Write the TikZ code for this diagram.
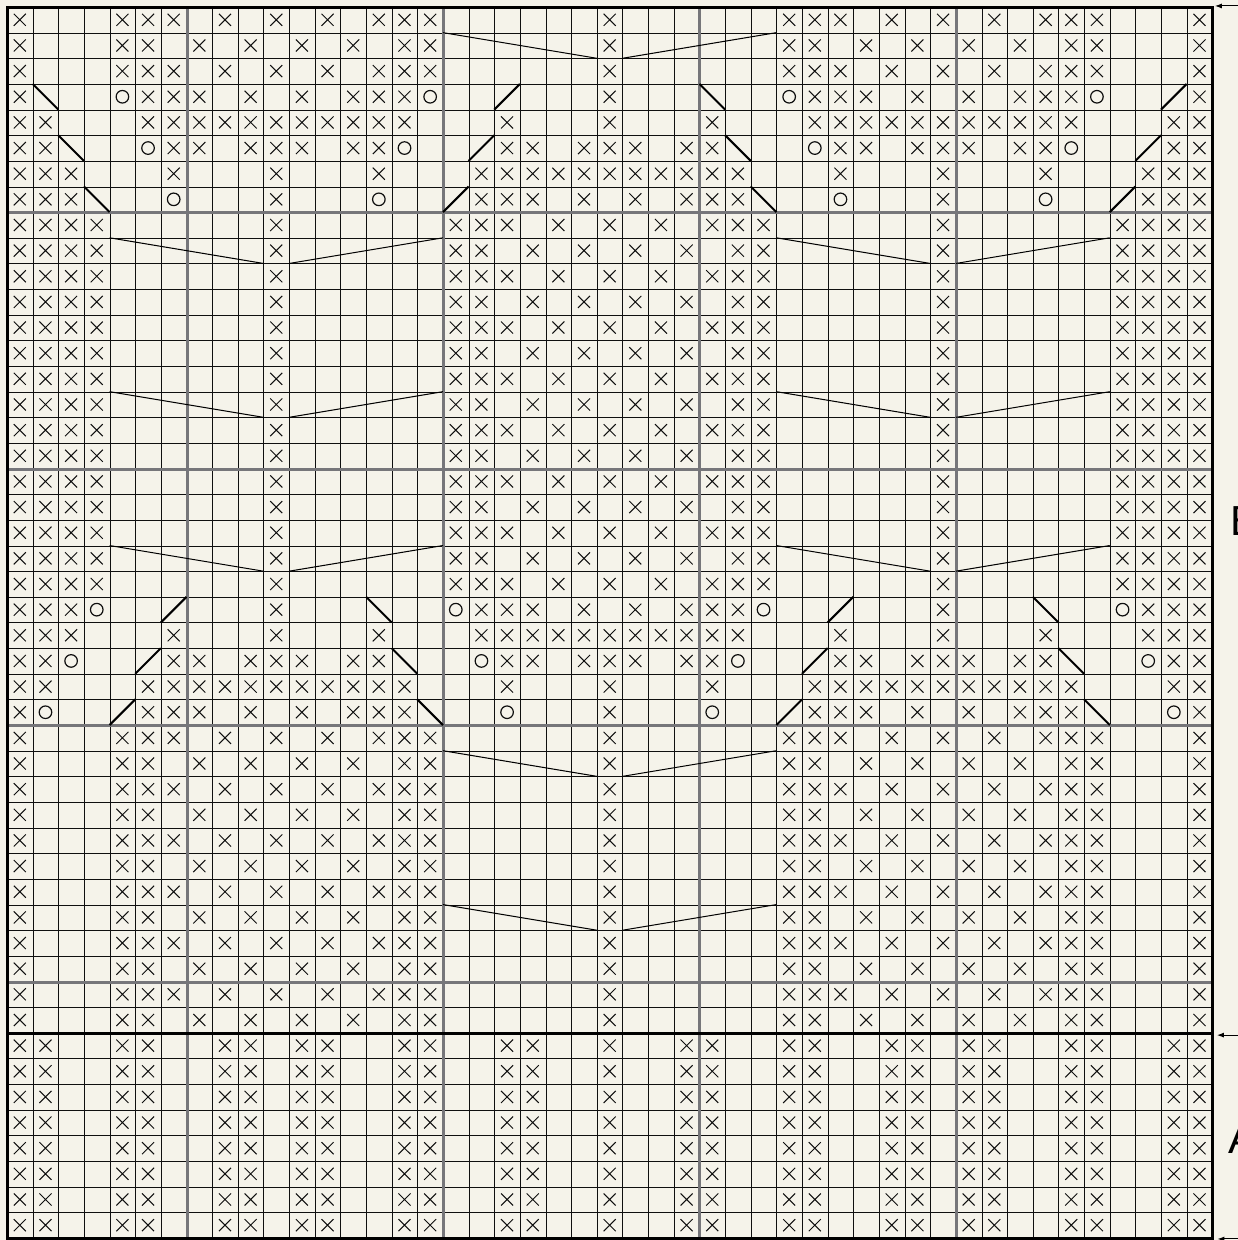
\documentclass[tikz,border=0pt]{standalone}
\usepackage{fontspec}
\setmainfont{Liberation Sans}
\usetikzlibrary{arrows.meta}
\definecolor{paper}{RGB}{245,243,234}
\definecolor{ink}{RGB}{15,15,15}
\definecolor{major}{RGB}{118,118,122}
\tikzset{
  gridline/.style={line width=1.6pt, draw=ink},
  majorline/.style={line width=3.2pt, draw=major},
  boldline/.style={line width=3.5pt, draw=black},
  xline/.style={line width=1pt, draw=ink},
  oline/.style={line width=1.2pt, draw=ink},
  diagline/.style={line width=2pt, draw=black},
  decline/.style={line width=1pt, draw=black},
  markarrow/.style={line width=1pt, draw=black, -{Latex[length=7pt,width=5pt]}},
  lbl/.style={font=\fontsize{42}{42}\selectfont, inner sep=0pt, text=black},
  xmark/.pic={\draw[xline] (-0.235,-0.235) -- (0.235,0.235) (-0.235,0.235) -- (0.235,-0.235);},
  omark/.pic={\draw[oline] (0,0) circle (0.245);},
}
% snap a cell boundary to a pixel centre
\newcommand\SnapC[2]{\pgfmathsetmacro#1{(round(7+25.645*(#2))+0.5-7)/25.645}}
% X marks in a row: left-half columns, mirrored about column 23
\newcommand\ChartX[2]{\foreach \c in #2 {\pgfmathtruncatemacro\mc{46-\c}\pic at (\c+0.5,#1+0.5) {xmark};\ifnum\c<23 \pic at (\mc+0.5,#1+0.5) {xmark};\fi}}
\newcommand\ChartO[2]{\foreach \c in #2 {\pgfmathtruncatemacro\mc{46-\c}\pic at (\c+0.5,#1+0.5) {omark};\ifnum\c<23 \pic at (\mc+0.5,#1+0.5) {omark};\fi}}
% left '\' and mirrored '/'
\newcommand\ChartBS[2]{\pgfmathtruncatemacro\mc{46-#2}\draw[diagline] (#2,#1) -- (#2+1,#1+1);\draw[diagline] (\mc,#1+1) -- (\mc+1,#1);}
% left '/' and mirrored '\'
\newcommand\ChartFS[2]{\pgfmathtruncatemacro\mc{46-#2}\draw[diagline] (#2,#1+1) -- (#2+1,#1);\draw[diagline] (\mc,#1) -- (\mc+1,#1+1);}
\newcommand\ChartDecC[1]{\draw[decline] (17,#1) -- (23,#1+1);\draw[decline] (24,#1+1) -- (30,#1);}
\newcommand\ChartDecS[1]{\draw[decline] (4,#1) -- (10,#1+1);\draw[decline] (11,#1+1) -- (17,#1);\draw[decline] (30,#1) -- (36,#1+1);\draw[decline] (37,#1+1) -- (43,#1);}
\def\RowA{0,4,5,6,8,10,12,14,15,16,23}
\def\RowB{0,4,5,7,9,11,13,15,16,23}
\def\RowPE{0,1,2,3,10,17,18,19,21,23}
\def\RowPO{0,1,2,3,10,17,18,20,22}
\def\RowRib{0,1,4,5,8,9,11,12,15,16,19,20,23}
\def\RowC{0,5,6,7,9,11,13,14,15,23}
\def\RowD{0,1,5,6,7,8,9,10,11,12,13,14,15,19,23}
\def\RowE{0,1,6,7,9,10,11,13,14,19,20,22,23}
\def\RowF{0,1,2,6,10,14,18,19,20,21,22,23}
\def\RowG{0,1,2,10,18,19,20,22}
\def\OThree{4,16}
\def\OFive{5,15}
\def\OSeven{6,14}
\def\OTwThree{3,17}
\def\OTwFive{2,18}
\def\OTwSeven{1,19}
\begin{document}
\begin{tikzpicture}[x=25.645pt,y=-25.645pt]
\useasboundingbox (-0.273,-0.273) rectangle (48.0,48.08);
\fill[paper] (-0.273,-0.273) rectangle (48.0,48.08);
\SnapC\gL{0}\SnapC\gR{47}\SnapC\gT{0}\SnapC\gB{48}
% thin grid
\foreach \i in {0,...,47} {\SnapC\gx{\i}\draw[gridline] (\gx,\gT) -- (\gx,\gB);}
\foreach \j in {0,...,48} {\SnapC\gy{\j}\draw[gridline] (\gL,\gy) -- (\gR,\gy);}
% major lines
\foreach \i in {7,17,27,37} {\SnapC\gx{\i}\draw[majorline] (\gx,\gT) -- (\gx,\gB);}
\foreach \j in {8,18,28,38} {\SnapC\gy{\j}\draw[majorline] (\gL,\gy) -- (\gR,\gy);}
\SnapC\gy{40}
\draw[boldline] (\gL,\gy) -- (\gR,\gy);
% X marks
\foreach \r in {0,2,28,30,32,34,36,38} {\ChartX{\r}{\RowA}}
\foreach \r in {1,29,31,33,35,37,39} {\ChartX{\r}{\RowB}}
\foreach \r in {8,10,12,14,16,18,20,22} {\ChartX{\r}{\RowPE}}
\foreach \r in {9,11,13,15,17,19,21} {\ChartX{\r}{\RowPO}}
\foreach \r in {40,...,47} {\ChartX{\r}{\RowRib}}
\ChartX{3}{\RowC}
\ChartX{27}{\RowC}
\ChartX{4}{\RowD}
\ChartX{26}{\RowD}
\ChartX{5}{\RowE}
\ChartX{25}{\RowE}
\ChartX{6}{\RowF}
\ChartX{24}{\RowF}
\ChartX{7}{\RowG}
\ChartX{23}{\RowG}
% O marks
\ChartO{3}{\OThree}
\ChartO{5}{\OFive}
\ChartO{7}{\OSeven}
\ChartO{23}{\OTwThree}
\ChartO{25}{\OTwFive}
\ChartO{27}{\OTwSeven}
% slanted decreases
\ChartBS{3}{1}  \ChartFS{3}{19}
\ChartBS{5}{2}  \ChartFS{5}{18}
\ChartBS{7}{3}  \ChartFS{7}{17}
\ChartFS{23}{6} \ChartBS{23}{14}
\ChartFS{25}{5} \ChartBS{25}{15}
\ChartFS{27}{4} \ChartBS{27}{16}
% long decrease lines
\ChartDecC{1}
\ChartDecC{29}
\ChartDecC{35}
\ChartDecS{9}
\ChartDecS{15}
\ChartDecS{21}
% border
\draw[boldline] (\gL,\gT) rectangle (\gR,\gB);
% section arrows
\coordinate (topS) at (48.3,-0.04);
\coordinate (topE) at (47.1,-0.04);
\coordinate (midS) at (48.3,40.09);
\coordinate (midE) at (47.18,40.09);
\coordinate (botS) at (48.3,48.04);
\coordinate (botE) at (47.2,48.04);
\draw[markarrow] (topS) -- (topE);
\draw[markarrow] (midS) -- (midE);
\draw[markarrow] (botS) -- (botE);
% labels
\node[lbl, anchor=base west] (labelB) at (47.69,20.59) {B};
\node[lbl, anchor=base west] (labelA) at (47.63,44.69) {A};
\end{tikzpicture}
\end{document}
